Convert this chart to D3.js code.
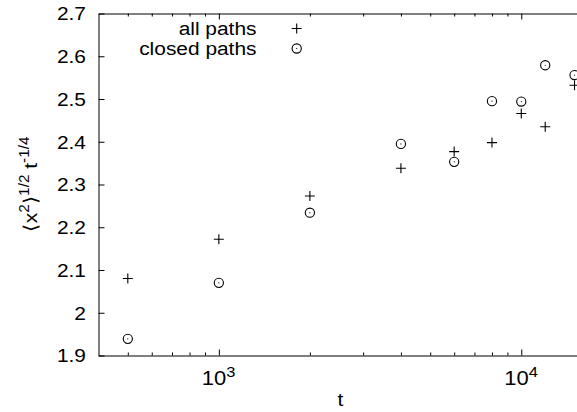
<!DOCTYPE html>
<html><head><meta charset="utf-8">
<script src="https://cdn.jsdelivr.net/npm/d3@7"></script>
<style>
body{margin:0;background:#fff}
svg{display:block}
text{font-family:"Liberation Sans",Arial,Helvetica,sans-serif;fill:#000}
</style>
</head><body>
<svg id="c" width="577" height="412"></svg>
<script>
// ---- data ----
const tValues     = [500, 1000, 2000, 4000, 6000, 8000, 10000, 12000, 15000];
const allPaths    = [2.080, 2.172, 2.273, 2.338, 2.377, 2.398, 2.466, 2.435, 2.532];
const closedPaths = [1.939, 2.070, 2.234, 2.395, 2.353, 2.495, 2.494, 2.579, 2.556];
const yTicks      = [1.9, 2.0, 2.1, 2.2, 2.3, 2.4, 2.5, 2.6, 2.7];
const yTickLabels = ["1.9", "2", "2.1", "2.2", "2.3", "2.4", "2.5", "2.6", "2.7"];
const xMajor      = [1000, 10000];
const xMajorBase  = ["10", "10"];
const xMajorExp   = ["3", "4"];
const xMinor      = [500, 600, 700, 800, 900, 2000, 3000, 4000, 5000, 6000, 7000, 8000, 9000];
const legendLabels = ["all paths", "closed paths"];
const xLabel = "t";

// ---- layout ----
const svg = d3.select("#c");
const L = 98.5, R = 583, T = 13.5, B = 355.5;
const SX = 1.1; // horizontal glyph stretch
const FS = 19;

const x = d3.scaleLog().domain([400, 16000]).range([L, R]);
const y = d3.scaleLinear().domain([1.9, 2.7]).range([B, T]);

// axes with inward ticks
function styleAxis(g){
  g.selectAll("path.domain").attr("stroke","#000").attr("stroke-width",1);
  g.selectAll(".tick line").attr("stroke","#000").attr("stroke-width",1);
  g.selectAll(".tick text").remove();
}
svg.append("g").attr("transform",`translate(0,${B})`)
  .call(d3.axisBottom(x).tickValues(xMajor).tickSizeInner(-6).tickSizeOuter(0).tickFormat(""))
  .call(styleAxis);
svg.append("g").attr("transform",`translate(0,${B})`)
  .call(d3.axisBottom(x).tickValues(xMinor).tickSizeInner(-3).tickSizeOuter(0).tickFormat(""))
  .call(styleAxis).select("path.domain").remove();
svg.append("g").attr("transform",`translate(0,${T})`)
  .call(d3.axisTop(x).tickValues(xMajor).tickSizeInner(-6).tickSizeOuter(0).tickFormat(""))
  .call(styleAxis);
svg.append("g").attr("transform",`translate(0,${T})`)
  .call(d3.axisTop(x).tickValues(xMinor).tickSizeInner(-3).tickSizeOuter(0).tickFormat(""))
  .call(styleAxis).select("path.domain").remove();
svg.append("g").attr("transform",`translate(${L},0)`)
  .call(d3.axisLeft(y).tickValues(yTicks).tickSizeInner(-6).tickSizeOuter(0).tickFormat(""))
  .call(styleAxis);
svg.append("g").attr("transform",`translate(${R},0)`)
  .call(d3.axisRight(y).tickValues(yTicks).tickSizeInner(-6).tickSizeOuter(0).tickFormat(""))
  .call(styleAxis);

// y tick labels
yTicks.forEach((v,i)=>{
  svg.append("text")
    .attr("transform",`translate(86,${y(v)+6.8}) scale(${SX},1)`)
    .attr("text-anchor","end").attr("font-size",FS)
    .text(yTickLabels[i]);
});

// x tick labels with superscripts
xMajor.forEach((v,i)=>{
  const g = svg.append("g").attr("transform",`translate(${x(v)+7.5},385) scale(${SX},1)`);
  g.append("text").attr("text-anchor","end").attr("font-size",FS+1).text(xMajorBase[i]);
  g.append("text").attr("x",0).attr("y",-8).attr("font-size",15).text(xMajorExp[i]);
});

// x label
svg.append("text").attr("transform",`translate(340.5,406) scale(${SX},1)`)
  .attr("text-anchor","middle").attr("font-size",FS).text(xLabel);

// y label (rotated)
const yl = svg.append("text")
  .attr("transform",`translate(36.5,184) rotate(-90) scale(${SX},1)`)
  .attr("text-anchor","middle").attr("font-size",FS);
yl.append("tspan").text("\u27E8x");
yl.append("tspan").attr("font-size",14).attr("dy",-8).text("2");
yl.append("tspan").attr("dy",8).text("\u27E9");
yl.append("tspan").attr("font-size",14).attr("dy",-8).text("1/2");
yl.append("tspan").attr("dy",8).text(" t");
yl.append("tspan").attr("font-size",14).attr("dy",-8).text("-1/4");

// markers
function plus(g, cx, cy){
  g.append("path").attr("d",`M${cx-5},${cy}H${cx+5}M${cx},${cy-5}V${cy+5}`)
    .attr("stroke","#000").attr("stroke-width",1.1).attr("fill","none");
}
function odot(g, cx, cy){
  g.append("circle").attr("cx",cx).attr("cy",cy).attr("r",4.6)
    .attr("stroke","#000").attr("stroke-width",1.1).attr("fill","none");
  g.append("circle").attr("cx",cx).attr("cy",cy).attr("r",0.6).attr("fill","#000");
}
const pts = svg.append("g");
tValues.forEach((t,i)=>{
  plus(pts, x(t), y(allPaths[i]));
  odot(pts, x(t), y(closedPaths[i]));
});

// legend
const lg = svg.append("g");
legendLabels.forEach((lab,i)=>{
  lg.append("text").attr("transform",`translate(256.5,${34.5+i*20}) scale(${SX},1)`)
    .attr("text-anchor","end").attr("font-size",FS).text(lab);
});
plus(lg, 296.7, 28.5);
odot(lg, 296.7, 48.5);
</script>
</body></html>
